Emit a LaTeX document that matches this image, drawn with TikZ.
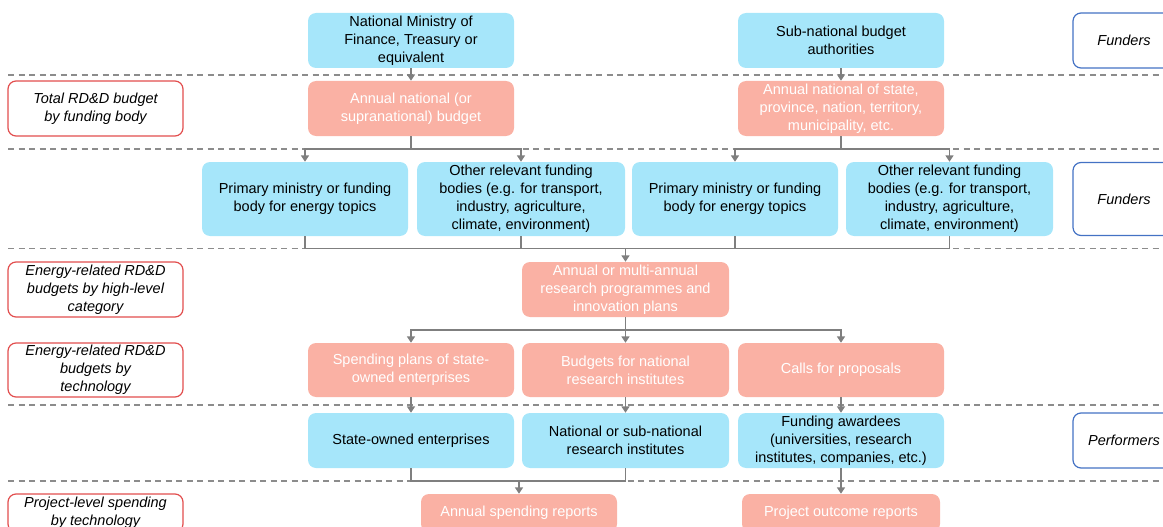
\documentclass[tikz,border=0pt]{standalone}
\usepackage{fontspec}
\setmainfont{Liberation Sans}
\usetikzlibrary{arrows.meta,positioning}

\definecolor{fundblue}{RGB}{166,230,250}
\definecolor{budgetred}{RGB}{250,177,164}
\definecolor{linegray}{RGB}{127,127,127}
\definecolor{dashgray}{RGB}{140,140,140}
\definecolor{tagred}{RGB}{226,78,78}
\definecolor{tagblue}{RGB}{68,114,196}

\begin{document}
\begin{tikzpicture}[
        x=1pt, y=-1pt, % pixel grid of the slide
        every node/.style={font=\fontsize{14.5}{18}\selectfont, align=center, rounded corners=8pt, inner sep=2pt},
        funder/.style={fill=fundblue, minimum width=206pt, minimum height=55pt},
        budget/.style={fill=budgetred, text=white, minimum width=206pt, minimum height=55pt},
        tag/.style={draw=tagred, line width=1.2pt, fill=white, font=\fontsize{14.5}{18}\selectfont\itshape, minimum width=175pt, minimum height=55pt},
        role/.style={draw=tagblue, line width=1.2pt, fill=white, font=\fontsize{14.5}{18}\selectfont\itshape, minimum width=102pt, minimum height=55pt},
        link/.style={draw=linegray, line width=1.5pt},
        flow/.style={link, -{Triangle[width=8pt,length=6.5pt]}},
        sep/.style={draw=dashgray, line width=1.5pt, dash pattern=on 6pt off 4.5pt}
    ]
    \useasboundingbox (0,0) rectangle (1163,527);

    % Level separators
    \foreach \y in {75,149,248.5,405,481}
        \draw[sep] (8,\y) -- (1163,\y);

    % Row 1: budget authorities
    \node[funder] (minfin) at (411,40.5) {National Ministry of\\Finance, Treasury or\\equivalent};
    \node[funder] (subauth) at (841,40.5) {Sub-national budget\\authorities};
    \node[role] (funders1) at (1124,40.5) {Funders};

    % Row 2: total budgets
    \node[tag] (tagtotal) at (95.5,108.5) {Total RD\&D budget\\by funding body};
    \node[budget] (natbudget) at (411,108.5) {Annual national (or\\supranational) budget};
    \node[budget] (subbudget) at (841,108.5) {Annual national of state,\\province, nation, territory,\\municipality, etc.};

    % Row 3: funding bodies
    \node[funder, minimum height=74pt] (natprim) at (305,199) {Primary ministry or funding\\body for energy topics};
    \node[funder, minimum height=74pt, minimum width=208pt] (natother) at (521,199) {Other relevant funding\\bodies (e.g. for transport,\\industry, agriculture,\\climate, environment)};
    \node[funder, minimum height=74pt] (subprim) at (735,199) {Primary ministry or funding\\body for energy topics};
    \node[funder, minimum height=74pt, minimum width=207pt] (subother) at (949.5,199) {Other relevant funding\\bodies (e.g. for transport,\\industry, agriculture,\\climate, environment)};
    \node[role, minimum height=73pt] (funders2) at (1124,199) {Funders};

    % Row 4: programmes
    \node[tag] (taghigh) at (95.5,289.5) {Energy-related RD\&D\\budgets by high-level\\category};
    \node[budget, minimum width=207pt] (programmes) at (625.5,289.5) {Annual or multi-annual\\research programmes and\\innovation plans};

    % Row 5: budgets by technology
    \node[tag, minimum height=54pt] (tagtech) at (95.5,370) {Energy-related RD\&D\\budgets by\\technology};
    \node[budget, minimum height=54pt] (soeplans) at (411,370) {Spending plans of state-\\owned enterprises};
    \node[budget, minimum height=54pt, minimum width=207pt] (instbudget) at (625.5,370) {Budgets for national\\research institutes};
    \node[budget, minimum height=54pt] (calls) at (841,370) {Calls for proposals};

    % Row 6: performers
    \node[funder] (soe) at (411,440.5) {State-owned enterprises};
    \node[funder, minimum width=207pt] (institutes) at (625.5,440.5) {National or sub-national\\research institutes};
    \node[funder] (awardees) at (841,440.5) {Funding awardees\\(universities, research\\institutes, companies, etc.)};
    \node[role] (performers) at (1124,440.5) {Performers};

    % Row 7: reports (cut by the page edge)
    \node[tag, minimum height=38pt] (tagproject) at (95.5,513) {Project-level spending\\by technology};
    \node[budget, minimum width=196pt, minimum height=38pt] (spendreports) at (519,513) {Annual spending reports};
    \node[budget, minimum width=198pt, minimum height=38pt] (outcomereports) at (841,513) {Project outcome reports};

    % Connectors
    \draw[flow] (minfin) -- (natbudget);
    \draw[flow] (subauth) -- (subbudget);

    \coordinate (natsplit) at (natbudget.south |- 0,149);
    \draw[link] (natbudget.south) -- (natsplit);
    \draw[flow] (natsplit) -| (natprim.north);
    \draw[flow] (natsplit) -| (natother.north);

    \coordinate (subsplit) at (subbudget.south |- 0,149);
    \draw[link] (subbudget.south) -- (subsplit);
    \draw[flow] (subsplit) -| (subprim.north);
    \draw[flow] (subsplit) -| (subother.north);

    \coordinate (bodymerge) at (programmes.north |- 0,248.5);
    \draw[link] (natprim.south) |- (bodymerge) -| (subother.south);
    \draw[link] (natother.south) -- (natother.south |- bodymerge);
    \draw[link] (subprim.south) -- (subprim.south |- bodymerge);
    \draw[flow] (bodymerge) -- (programmes.north);

    \coordinate (progsplit) at (programmes.south |- 0,330);
    \draw[link] (programmes.south) -- (progsplit);
    \draw[flow] (progsplit) -| (soeplans.north);
    \draw[flow] (progsplit) -- (instbudget.north);
    \draw[flow] (progsplit) -| (calls.north);

    \draw[flow] (soeplans) -- (soe);
    \draw[flow] (instbudget) -- (institutes);
    \draw[flow] (calls) -- (awardees);

    \coordinate (perfmerge) at (spendreports.north |- 0,481);
    \draw[link] (soe.south) |- (perfmerge) -| (institutes.south);
    \draw[flow] (perfmerge) -- (spendreports.north);
    \draw[flow] (awardees) -- (outcomereports);
\end{tikzpicture}
\end{document}
